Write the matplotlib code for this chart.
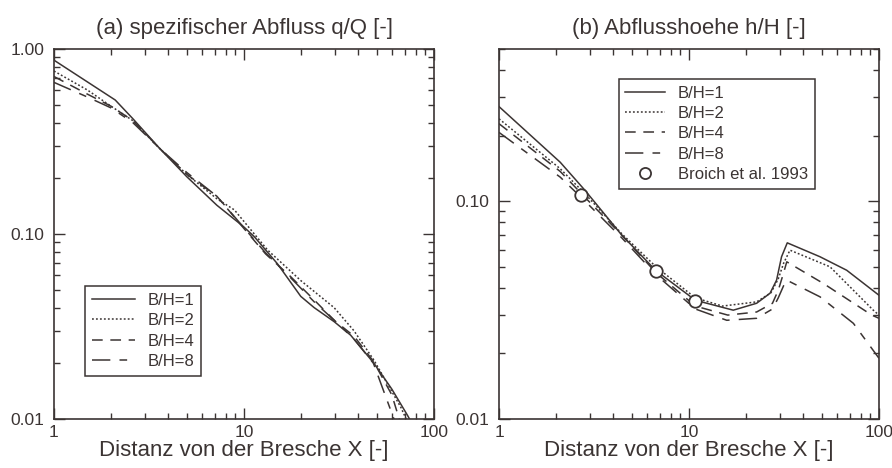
import matplotlib
matplotlib.use("Agg")
import matplotlib.pyplot as plt
from matplotlib.legend_handler import HandlerLine2D
from matplotlib.ticker import LogLocator, FormatStrFormatter, NullFormatter

INK = "#3b3433"
plt.rcParams["font.family"] = ["Liberation Sans", "DejaVu Sans"]
plt.rcParams["text.color"] = INK
plt.rcParams["axes.edgecolor"] = INK
plt.rcParams["xtick.color"] = INK
plt.rcParams["ytick.color"] = INK
plt.rcParams["axes.labelcolor"] = INK

labels = ["B/H=1", "B/H=2", "B/H=4", "B/H=8"]

# (a) specific discharge q/Q along the distance from the breach
qx_bh1 = [1, 2.1, 2.6, 3.6, 5.0, 7.2, 9.9, 11.3, 15, 19.9, 23.4, 29.8, 36.4, 48.3, 60, 72.4, 76]
qy_bh1 = [0.87, 0.53, 0.42, 0.29, 0.204, 0.143, 0.11, 0.097, 0.069, 0.046, 0.040, 0.0336, 0.0284, 0.020, 0.0145, 0.0105, 0.0096]
qx_bh2 = [1, 1.5, 2.0, 2.6, 3.6, 5.0, 7.2, 8.9, 13.3, 19.9, 29.8, 37.9, 48.3, 66.8, 72]
qy_bh2 = [0.76, 0.60, 0.49, 0.41, 0.29, 0.21, 0.155, 0.135, 0.082, 0.056, 0.040, 0.030, 0.0208, 0.0116, 0.0098]
qx_bh4 = [1, 1.5, 2.0, 2.6, 3.6, 5.0, 7.2, 10, 13, 17.6, 23.4, 30, 38, 48, 60, 66]
qy_bh4 = [0.71, 0.57, 0.49, 0.41, 0.29, 0.21, 0.16, 0.107, 0.078, 0.0588, 0.044, 0.034, 0.028, 0.0205, 0.0135, 0.0098]
qx_bh8 = [1, 1.5, 2.0, 2.6, 3.6, 5.0, 7.2, 10, 13, 17.6, 23.4, 30, 38, 48, 62]
qy_bh8 = [0.66, 0.55, 0.48, 0.40, 0.29, 0.215, 0.16, 0.108, 0.079, 0.058, 0.043, 0.034, 0.027, 0.020, 0.0098]

# (b) flow depth h/H
hx_bh1 = [1, 2.1, 2.84, 4.42, 6.7, 10.8, 17.1, 22.7, 26.7, 28.9, 30.7, 32.9, 48.9, 67.6, 100]
hy_bh1 = [0.272, 0.151, 0.112, 0.070, 0.048, 0.0351, 0.0316, 0.034, 0.0378, 0.0434, 0.0556, 0.0644, 0.0556, 0.0482, 0.037]
hx_bh2 = [1, 2.1, 2.84, 4.42, 6.7, 10.8, 15, 22.7, 27, 29.5, 31.5, 34, 55.2, 93.3, 100]
hy_bh2 = [0.239, 0.141, 0.108, 0.071, 0.050, 0.036, 0.033, 0.0345, 0.038, 0.044, 0.052, 0.0596, 0.050, 0.0316, 0.030]
hx_bh4 = [1, 2.1, 2.84, 4.42, 6.7, 10.8, 16, 22.7, 27.5, 29.5, 31.5, 32.7, 51, 91.6, 100]
hy_bh4 = [0.227, 0.137, 0.104, 0.070, 0.047, 0.033, 0.030, 0.031, 0.034, 0.039, 0.047, 0.0527, 0.0419, 0.030, 0.029]
hx_bh8 = [1, 2.1, 2.84, 4.42, 6.7, 10.8, 15.8, 22.7, 27.5, 29.5, 31.5, 32.7, 48.9, 73.3, 100]
hy_bh8 = [0.207, 0.129, 0.100, 0.068, 0.046, 0.032, 0.0284, 0.029, 0.032, 0.036, 0.041, 0.0434, 0.0364, 0.0275, 0.019]

# measurements from Broich et al. 1993
broich_x = [2.7, 6.7, 10.8]
broich_y = [0.107, 0.048, 0.035]

styles = [
    dict(linestyle="-"),
    dict(linestyle=(0, (1.2, 1.4))),
    dict(linestyle=(0, (7, 5))),
    dict(linestyle=(0, (12, 6, 5, 6))),
]


class MarkerAtEnd(HandlerLine2D):
    # put a marker-only legend entry at the right end of the handle box
    def get_xdata(self, legend, xdescent, ydescent, width, height, fontsize):
        return [-xdescent, -xdescent + width], [-xdescent + width - 0.1 * fontsize]


def style_axes(ax, ymin, ymax):
    ax.set_xscale("log")
    ax.set_yscale("log")
    ax.set_xlim(1, 100)
    ax.set_ylim(ymin, ymax)
    ax.xaxis.set_major_locator(LogLocator(base=10, numticks=10))
    ax.xaxis.set_minor_locator(LogLocator(base=10, subs=range(2, 10), numticks=20))
    ax.xaxis.set_major_formatter(FormatStrFormatter("%g"))
    ax.xaxis.set_minor_formatter(NullFormatter())
    ax.yaxis.set_major_locator(LogLocator(base=10, numticks=10))
    ax.yaxis.set_minor_locator(LogLocator(base=10, subs=range(2, 10), numticks=20))
    ax.yaxis.set_major_formatter(FormatStrFormatter("%.2f"))
    ax.yaxis.set_minor_formatter(NullFormatter())
    ax.tick_params(which="both", direction="in", top=True, right=True, width=1.0, labelsize=12.5)
    ax.tick_params(which="major", length=8)
    ax.tick_params(axis="y", which="major", pad=7)
    ax.tick_params(axis="x", which="major", pad=4)
    ax.tick_params(which="minor", length=4)
    for s in ax.spines.values():
        s.set_linewidth(1.2)
    ax.set_xlabel("Distanz von der Bresche X [-]", fontsize=16, labelpad=0)


fig = plt.figure(figsize=(8.92, 4.68), dpi=100)
ax1 = fig.add_axes([54 / 892, 49 / 468, 380 / 892, 370 / 468])
ax2 = fig.add_axes([499 / 892, 49 / 468, 380 / 892, 370 / 468])

legend_kw = dict(loc="upper left", borderaxespad=0, fontsize=12, handletextpad=0.75,
                 labelspacing=0.32, borderpad=0.4, fancybox=False, framealpha=1,
                 edgecolor=INK)

qdata = [(qx_bh1, qy_bh1), (qx_bh2, qy_bh2), (qx_bh4, qy_bh4), (qx_bh8, qy_bh8)]
for (x, y), lab, st in zip(qdata, labels, styles):
    ax1.plot(x, y, color=INK, lw=1.1, label=lab, **st)
style_axes(ax1, 0.01, 1.0)
ax1.set_title("(a) spezifischer Abfluss q/Q [-]", fontsize=16, pad=11)
leg1 = ax1.legend(bbox_to_anchor=(0.082, 0.359), handlelength=2.6, **legend_kw)
leg1.get_frame().set_linewidth(1.1)

hdata = [(hx_bh1, hy_bh1), (hx_bh2, hy_bh2), (hx_bh4, hy_bh4), (hx_bh8, hy_bh8)]
for (x, y), lab, st in zip(hdata, labels, styles):
    ax2.plot(x, y, color=INK, lw=1.1, label=lab, **st)
pts, = ax2.plot(broich_x, broich_y, linestyle="none", marker="o", markersize=9,
                markerfacecolor="white", markeredgecolor=INK, markeredgewidth=1.3,
                label="Broich et al. 1993", zorder=5)
style_axes(ax2, 0.01, 0.5)
ax2.set_title("(b) Abflusshoehe h/H [-]", fontsize=16, pad=11)
leg2 = ax2.legend(bbox_to_anchor=(0.315, 0.919), handlelength=2.4,
                  handler_map={pts: MarkerAtEnd(numpoints=1)}, **legend_kw)
leg2.get_frame().set_linewidth(1.1)
leg2.legend_handles[-1].set_markersize(8)

fig.savefig("out.png", dpi=100, facecolor="white")
